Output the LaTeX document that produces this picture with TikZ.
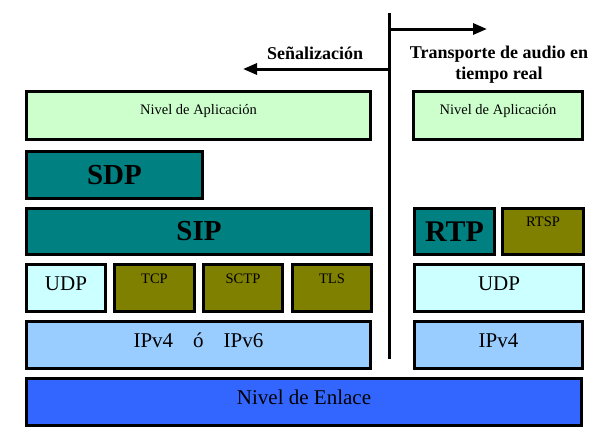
\documentclass[tikz,border=0pt]{standalone}
\usepackage{fontspec}
\setmainfont{Liberation Serif}
\usepackage{tikz}
\usetikzlibrary{arrows.meta}

\definecolor{aplcol}{HTML}{CCFFCC}
\definecolor{sipcol}{HTML}{008080}
\definecolor{olvcol}{HTML}{808000}
\definecolor{udpcol}{HTML}{CCFFFF}
\definecolor{ipcol}{HTML}{99CCFF}
\definecolor{enlcol}{HTML}{3366FF}

\begin{document}
\begin{tikzpicture}[x=1pt,y=-1pt,
	layer/.style = {draw, line width=3pt, inner sep=0pt},
	big/.style = {font=\fontsize{21}{24}\selectfont, text height=8pt, text depth=4pt},
	small/.style = {font=\fontsize{14.5}{16}\selectfont, text height=0pt, text depth=10pt},
	apl/.style = {layer, fill=aplcol, minimum height=48pt, font=\fontsize{14.5}{16}\selectfont, text height=0pt, text depth=3pt},
	strong/.style = {font=\fontsize{29}{32}\selectfont\bfseries},
	head/.style = {font=\fontsize{18}{21}\selectfont\bfseries, inner sep=0pt}]
	\useasboundingbox (0,0) rectangle (610,442);
	% pila de senalizacion
	\node[apl, minimum width=344pt] (apl1) at (198.5,115.5) {Nivel de Aplicación};
	\node[layer, strong, fill=sipcol, minimum width=176pt, minimum height=47pt] (sdp) at (114.5,175) {SDP};
	\node[layer, strong, fill=sipcol, minimum width=345pt, minimum height=46pt] (sip) at (199,231.5) {SIP};
	\node[layer, big, fill=udpcol, minimum width=79pt, minimum height=47pt] (udp1) at (66,288) {UDP};
	\node[layer, small, fill=olvcol, minimum width=80pt, minimum height=47pt] (tcp) at (154.5,288) {TCP};
	\node[layer, small, fill=olvcol, minimum width=79pt, minimum height=47pt] (sctp) at (243,288) {SCTP};
	\node[layer, small, fill=olvcol, minimum width=79pt, minimum height=47pt] (tls) at (332,288) {TLS};
	\node[layer, big, fill=ipcol, minimum width=344pt, minimum height=47pt] (ip1) at (198.5,345) {IPv4\hspace{20pt}ó\hspace{20pt}IPv6};
	% pila de transporte
	\node[apl, minimum width=169pt] (apl2) at (498,115.5) {Nivel de Aplicación};
	\node[layer, font=\fontsize{30}{32}\selectfont\bfseries, fill=sipcol, minimum width=80pt, minimum height=46pt] (rtp) at (454.5,231.5) {RTP};
	\node[layer, small, fill=olvcol, minimum width=81pt, minimum height=46pt] (rtsp) at (543,231.5) {RTSP};
	\node[layer, big, fill=udpcol, minimum width=169pt, minimum height=47pt] (udp2) at (499,288) {UDP};
	\node[layer, big, fill=ipcol, minimum width=168pt, minimum height=47pt] (ip2) at (498.5,345) {IPv4};
	% enlace
	\node[layer, big, fill=enlcol, minimum width=555pt, minimum height=47pt] (enl) at (304,402) {Nivel de Enlace};
	% separador y flechas
	\coordinate (top) at (389,13);
	\coordinate (bot) at (389,359);
	\coordinate (jr) at (389,29);
	\coordinate (jl) at (389,69);
	\coordinate (media) at (487,29);
	\coordinate (senal) at (243,69);
	\draw[line width=3pt] (top) -- (bot);
	\draw[line width=3pt, -{Triangle[length=14pt,width=11pt]}] (jr) -- (media);
	\draw[line width=3pt, -{Triangle[length=14pt,width=11pt]}] (jl) -- (senal);
	\node[head, anchor=base] (tsen) at (315,59) {Señalización};
	\node[head, align=center] (taud) at (499,65) {Transporte de audio en\\tiempo real};
\end{tikzpicture}
\end{document}
